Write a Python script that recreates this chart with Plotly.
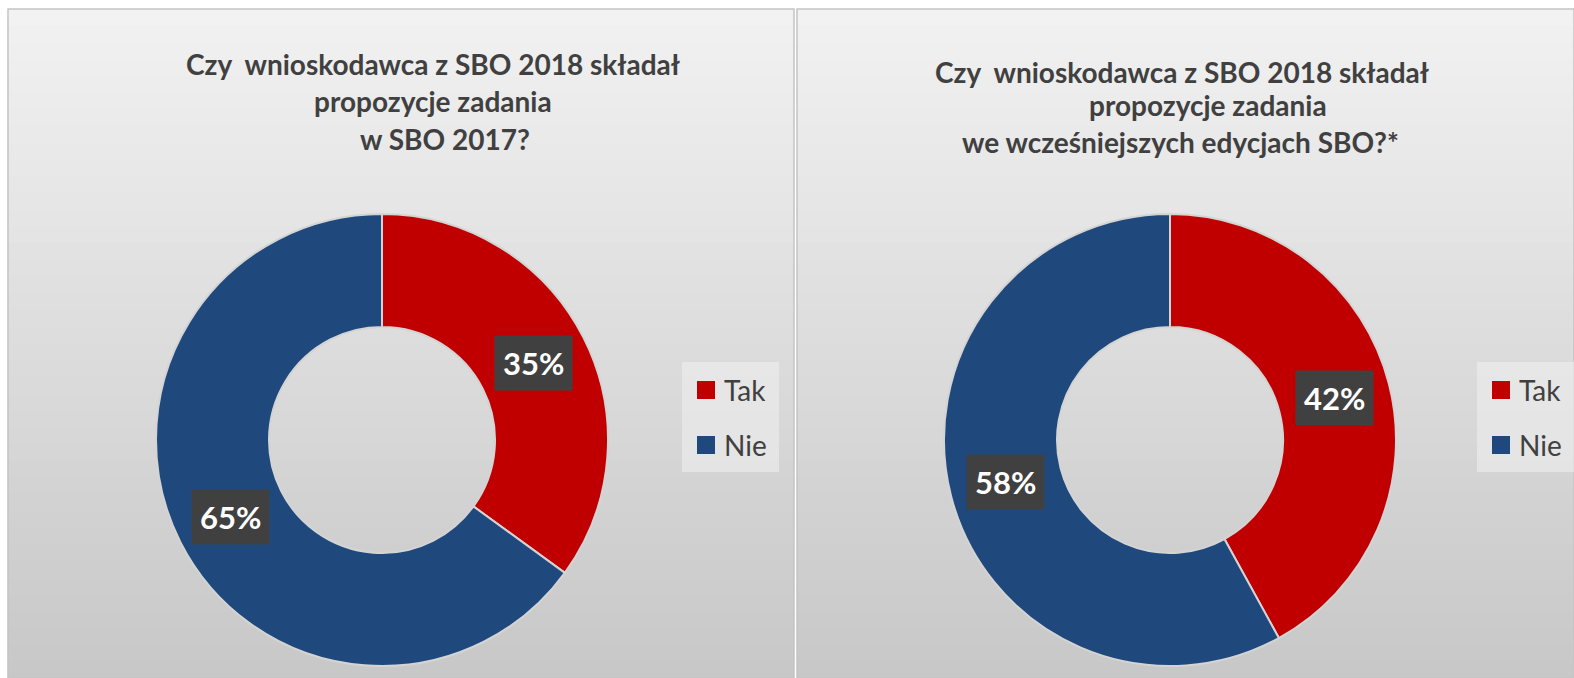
import math
import plotly.graph_objects as go

# ---- data ----
categories = ["Tak", "Nie"]
values_2017 = [35, 65]
values_earlier = [42, 58]
title_left = ["Czy  wnioskodawca z SBO 2018 składał", "propozycje zadania", "w SBO 2017?"]
title_right = ["Czy  wnioskodawca z SBO 2018 składał", "propozycje zadania", "we wcześniejszych edycjach SBO?*"]

# ---- styling ----
W, H = 1574, 678
colors = ["#C00000", "#1F497D"]
TEXT = "#404040"
FONT = "Lato"

def px(x):
    return x / W

def py(y):
    return 1 - y / H

fig = go.Figure()

# donut geometry (pixels)
R = 226
pies = [
    dict(vals=values_2017, cx=382, cy=440, titles=title_left,
         tx=[433, 433, 445], ty=[64, 101, 139], lx=682),
    dict(vals=values_earlier, cx=1170, cy=440, titles=title_right,
         tx=[1182, 1208, 1180], ty=[72, 105, 142], lx=1477),
]

# panel backgrounds (vertical gradient bands)
panels = [(8, 9, 794, 678), (797, 9, 1574, 678)]
N = 40
shapes = []
for (x0, y0, x1, y1) in panels:
    for i in range(N):
        t = i / (N - 1)
        c = int(242 - 42 * t)
        ya = y0 + (y1 - y0) * i / N
        yb = y0 + (y1 - y0) * (i + 1) / N + 1
        shapes.append(dict(type="rect", xref="paper", yref="paper",
                           x0=px(x0), x1=px(x1), y0=py(yb), y1=py(ya),
                           fillcolor=f"rgb({c},{c},{c})", line=dict(width=0), layer="below"))
    shapes.append(dict(type="rect", xref="paper", yref="paper",
                       x0=px(x0), x1=px(x1), y0=py(y1), y1=py(y0),
                       fillcolor="rgba(0,0,0,0)", line=dict(color="#c4c4c4", width=1.5), layer="below"))

annotations = []
for p in pies:
    cx, cy = p["cx"], p["cy"]
    fig.add_trace(go.Pie(
        labels=categories, values=p["vals"], hole=0.5, sort=False,
        direction="clockwise", rotation=0,
        marker=dict(colors=colors, line=dict(color="#d4d4d4", width=2)),
        textinfo="none", hoverinfo="label+percent",
        domain=dict(x=[px(cx - R), px(cx + R)], y=[py(cy + R), py(cy - R)]),
        showlegend=False,
    ))
    total = sum(p["vals"])
    cum = 0
    for v in p["vals"]:
        mid = (cum + v / 2) / total * 2 * math.pi
        cum += v
        r = 0.75 * R
        x = cx + r * math.sin(mid)
        y = cy - r * math.cos(mid)
        annotations.append(dict(
            x=px(x), y=py(y), xref="paper", yref="paper",
            xanchor="center", yanchor="middle",
            text=f"<b>{round(v / total * 100)}%</b>", showarrow=False,
            font=dict(family=FONT, size=31, color="white"),
            bgcolor="#404040", borderpad=8,
        ))
    for line, tx, ty in zip(p["titles"], p["tx"], p["ty"]):
        annotations.append(dict(
            x=px(tx), y=py(ty), xref="paper", yref="paper",
            text=f"<b>{line.replace('  ', '&nbsp; ')}</b>", showarrow=False,
            font=dict(family=FONT, size=28, color=TEXT),
            xanchor="center", yanchor="middle",
        ))
    # legend (box, colour keys, labels)
    lx = p["lx"]
    shapes.append(dict(type="rect", xref="paper", yref="paper",
                       x0=px(lx), x1=px(lx + 97), y0=py(472), y1=py(362),
                       fillcolor="rgba(238,238,238,0.6)", line=dict(width=0)))
    for k, (cat, col) in enumerate(zip(categories, colors)):
        yc = 390 + 55 * k
        shapes.append(dict(type="rect", xref="paper", yref="paper",
                           x0=px(lx + 15), x1=px(lx + 33), y0=py(yc + 9), y1=py(yc - 9),
                           fillcolor=col, line=dict(width=0)))
        annotations.append(dict(
            x=px(lx + 40), y=py(yc), xref="paper", yref="paper",
            text=cat, showarrow=False, xanchor="left", yanchor="middle",
            font=dict(family=FONT, size=28, color=TEXT),
        ))

fig.update_layout(
    width=W, height=H,
    margin=dict(l=0, r=0, t=0, b=0),
    paper_bgcolor="white", plot_bgcolor="white",
    shapes=shapes, annotations=annotations,
    showlegend=False,
)

fig.write_html("out.html", config={"displayModeBar": False},
               post_script="document.body.style.margin='0';document.body.style.overflow='hidden';")
